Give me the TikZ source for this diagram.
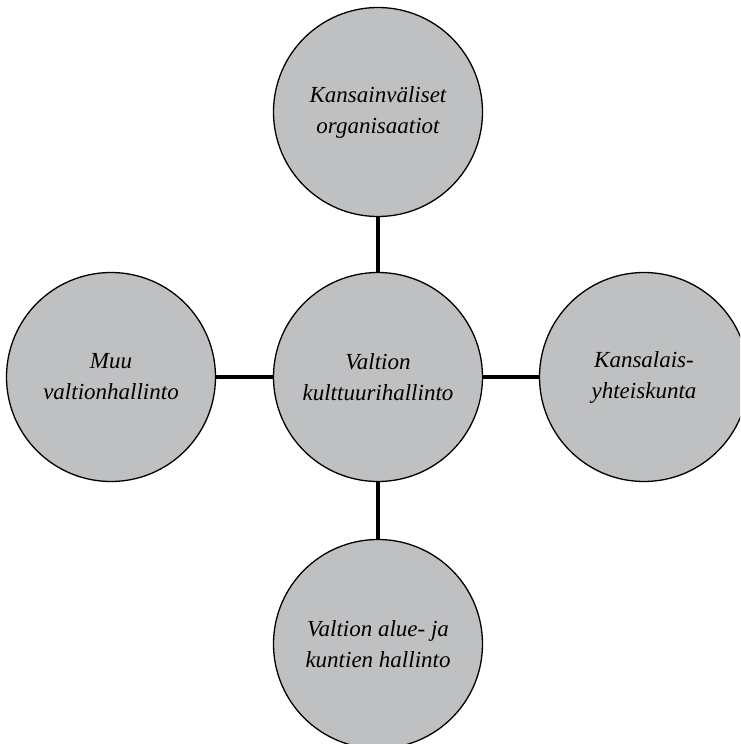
\documentclass[tikz,border=0pt]{standalone}
\usepackage{fontspec}
\setmainfont{Liberation Serif}
\definecolor{circfill}{RGB}{191,192,194}
\begin{document}
\begin{tikzpicture}[x=1pt,y=-1pt,
  bubble/.style={circle, draw=black, line width=1.3pt, fill=circfill,
    minimum size=209pt, inner sep=0pt, align=center,
    font=\itshape\fontsize{23}{31}\selectfont},
  link/.style={line width=4pt}]
\useasboundingbox (0,0) rectangle (740,744);
\clip (0,0) rectangle (740,744);
\node[bubble] (c) at (378,377) {Valtion\\kulttuurihallinto};
\node[bubble] (t) at (378,112) {Kansainväliset\\organisaatiot};
\node[bubble] (l) at (111,377) {Muu\\valtionhallinto};
\node[bubble] (r) at (644,377) {Kansalais-\\yhteiskunta};
\node[bubble] (b) at (378,644) {Valtion alue- ja\\kuntien hallinto};
\draw[link] (c) -- (t);
\draw[link] (c) -- (l);
\draw[link] (c) -- (r);
\draw[link] (c) -- (b);
\end{tikzpicture}
\end{document}
